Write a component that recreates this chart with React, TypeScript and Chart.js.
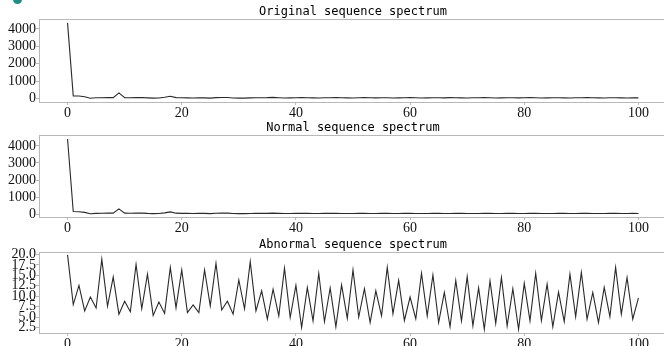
import React, { useEffect, useRef } from "react";
import { Chart, registerables } from "chart.js";

Chart.register(...registerables);

// ---- data ----
const frequencyIndex: number[] = Array.from({ length: 101 }, (_, i) => i);

const xTickValues: number[] = [0, 20, 40, 60, 80, 100];
const amplitudeTicks: number[] = [0, 1000, 2000, 3000, 4000];
const abnormalTicks: number[] = [2.5, 5.0, 7.5, 10.0, 12.5, 15.0, 17.5, 20.0];

const originalSpectrum: number[] = [
  4350, 160, 150, 110, 25, 50, 55, 70, 60, 330, 60, 55, 60, 65, 45, 30, 40, 80, 140, 60,
  50, 45, 40, 50, 45, 30, 60, 70, 65, 40, 35, 30, 45, 50, 55, 60, 75, 55, 40, 45,
  50, 60, 55, 45, 40, 50, 55, 60, 50, 45, 40, 55, 60, 50, 45, 55, 50, 40, 45, 55,
  60, 50, 40, 45, 55, 50, 45, 60, 55, 45, 40, 50, 55, 60, 50, 40, 45, 55, 50, 45,
  55, 60, 50, 40, 45, 50, 55, 45, 40, 50, 55, 60, 50, 45, 40, 50, 55, 45, 40, 50, 45,
];

const normalSpectrum: number[] = [
  4410, 150, 140, 100, 20, 45, 50, 60, 55, 310, 55, 50, 55, 60, 40, 30, 35, 70, 130, 55,
  45, 40, 35, 45, 40, 30, 50, 60, 55, 35, 30, 30, 35, 40, 40, 45, 55, 45, 35, 35,
  40, 40, 40, 35, 35, 40, 40, 40, 35, 35, 35, 40, 40, 35, 35, 40, 40, 35, 35, 40,
  40, 35, 35, 35, 40, 40, 35, 35, 40, 40, 35, 35, 35, 40, 40, 35, 35, 40, 40, 35,
  35, 40, 40, 35, 35, 35, 40, 40, 35, 35, 40, 40, 35, 35, 35, 40, 40, 35, 35, 40, 35,
];

const abnormalSpectrum: number[] = [
  19.9, 8.0, 12.6, 6.5, 9.8, 7.2, 18.9, 7.6, 14.6, 5.7,
  8.8, 6.3, 17.6, 7.0, 15.3, 5.4, 8.6, 5.9, 16.9, 7.2,
  16.3, 6.1, 7.9, 6.1, 16.3, 7.7, 17.9, 6.7, 8.8, 5.7,
  13.9, 7.0, 18.3, 6.5, 11.3, 4.5, 11.7, 5.3, 16.7, 4.9,
  12.6, 2.5, 12.1, 4.1, 15.5, 3.9, 12.0, 2.7, 12.7, 4.7,
  16.3, 5.0, 11.8, 3.7, 11.3, 5.3, 16.9, 5.8, 13.8, 4.2,
  9.8, 4.6, 15.5, 5.3, 15.1, 3.7, 10.9, 2.7, 13.8, 4.1,
  14.7, 2.9, 12.0, 2.1, 13.7, 3.5, 14.5, 2.9, 11.8, 2.1,
  13.1, 4.1, 15.5, 4.2, 12.9, 2.7, 11.0, 3.9, 15.3, 5.1,
  15.7, 4.5, 10.9, 3.7, 12.1, 5.1, 16.9, 5.7, 14.5, 4.5,
  9.6,
];

const panelTitles: string[] = [
  "Original sequence spectrum",
  "Normal sequence spectrum",
  "Abnormal sequence spectrum",
];

const SPINE = "#b8b8b8";

const boxPlugin = {
  id: "boxPlugin",
  beforeDatasetsDraw(chart: any) {
    const { left, top, right, bottom } = chart.chartArea;
    const ctx = chart.ctx;
    ctx.save();
    ctx.strokeStyle = SPINE;
    ctx.lineWidth = 1;
    ctx.strokeRect(
      Math.round(left) + 0.5,
      Math.round(top) + 0.5,
      Math.round(right) - Math.round(left),
      Math.round(bottom) - Math.round(top)
    );
    ctx.restore();
  },
};

// draws the panel title centred over the plotting area (like an axes title)
const axesTitlePlugin = {
  id: "axesTitle",
  afterDraw(chart: any, _args: any, opts: any) {
    const { left, top, right } = chart.chartArea;
    const ctx = chart.ctx;
    ctx.save();
    ctx.fillStyle = "#000";
    ctx.font = "12px 'DejaVu Sans Mono', 'Liberation Mono', monospace";
    ctx.textAlign = "center";
    ctx.textBaseline = "alphabetic";
    ctx.fillText(opts.text, (left + right) / 2, top - 4);
    ctx.restore();
  },
};

type PanelProps = {
  top: number;
  height: number;
  title: string;
  values: number[];
  yMin: number;
  yMax: number;
  yTicks: number[];
  decimals: number;
};

const CANVAS_W = 705;

function Panel({ top, height, title, values, yMin, yMax, yTicks, decimals }: PanelProps) {
  const ref = useRef<HTMLCanvasElement | null>(null);
  useEffect(() => {
    if (!ref.current) return;
    const tickFont = { family: "'Liberation Serif', 'Times New Roman', serif", size: 14, lineHeight: 1 };
    const chart = new Chart(ref.current, {
      type: "line",
      data: {
        datasets: [
          {
            data: values.map((v, i) => ({ x: frequencyIndex[i], y: v })),
            borderColor: "#2a2a2a",
            borderWidth: 1.1,
            pointRadius: 0,
            tension: 0,
            fill: false,
          },
        ],
      },
      options: {
        animation: false,
        responsive: false,
        devicePixelRatio: 1,
        layout: { padding: { left: 0, right: 38, top: 19, bottom: 0 } },
        plugins: {
          legend: { display: false },
          tooltip: { enabled: false },
          title: { display: false },
          axesTitle: { text: title },
        },
        scales: {
          x: {
            type: "linear",
            min: -5,
            max: 105,
            afterFit: (s: any) => {
              s.height = 16;
            },
            afterBuildTicks: (s: any) => {
              s.ticks = xTickValues.map((v) => ({ value: v }));
            },
            ticks: {
              autoSkip: false,
              maxRotation: 0,
              padding: 1,
              color: "#111",
              font: tickFont,
            },
            grid: { drawOnChartArea: false, drawTicks: true, tickLength: 3, color: SPINE },
            border: { display: true, color: SPINE },
          },
          y: {
            type: "linear",
            min: yMin,
            max: yMax,
            afterFit: (s: any) => {
              s.width = 39;
            },
            afterBuildTicks: (s: any) => {
              s.ticks = yTicks.map((v) => ({ value: v }));
            },
            ticks: {
              autoSkip: false,
              padding: 0,
              color: "#111",
              font: tickFont,
              callback: (v: any) => Number(v).toFixed(decimals),
            },
            grid: { drawOnChartArea: false, drawTicks: true, tickLength: 3, color: SPINE },
            border: { display: true, color: SPINE },
          },
        },
      },
      plugins: [boxPlugin, axesTitlePlugin],
    } as any);
    return () => chart.destroy();
  }, [title, values, yMin, yMax, yTicks, decimals]);

  return (
    <canvas
      ref={ref}
      width={CANVAS_W}
      height={height}
      style={{ position: "absolute", left: 0, top, width: CANVAS_W, height }}
    />
  );
}

export default function App() {
  return (
    <div
      style={{
        position: "absolute",
        left: 0,
        top: 0,
        width: 664,
        height: 346,
        overflow: "hidden",
        background: "#fff",
      }}
    >
      <div
        style={{
          position: "absolute",
          left: 13,
          top: -5,
          width: 9,
          height: 9,
          borderRadius: "50%",
          background: "#1b8f84",
        }}
      />
      <Panel top={0} height={118} title={panelTitles[0]} values={originalSpectrum} yMin={-190} yMax={4570} yTicks={amplitudeTicks} decimals={0} />
      <Panel top={116} height={117} title={panelTitles[1]} values={normalSpectrum} yMin={-170} yMax={4640} yTicks={amplitudeTicks} decimals={0} />
      <Panel top={233} height={116} title={panelTitles[2]} values={abnormalSpectrum} yMin={1.2} yMax={20.6} yTicks={abnormalTicks} decimals={1} />
    </div>
  );
}
